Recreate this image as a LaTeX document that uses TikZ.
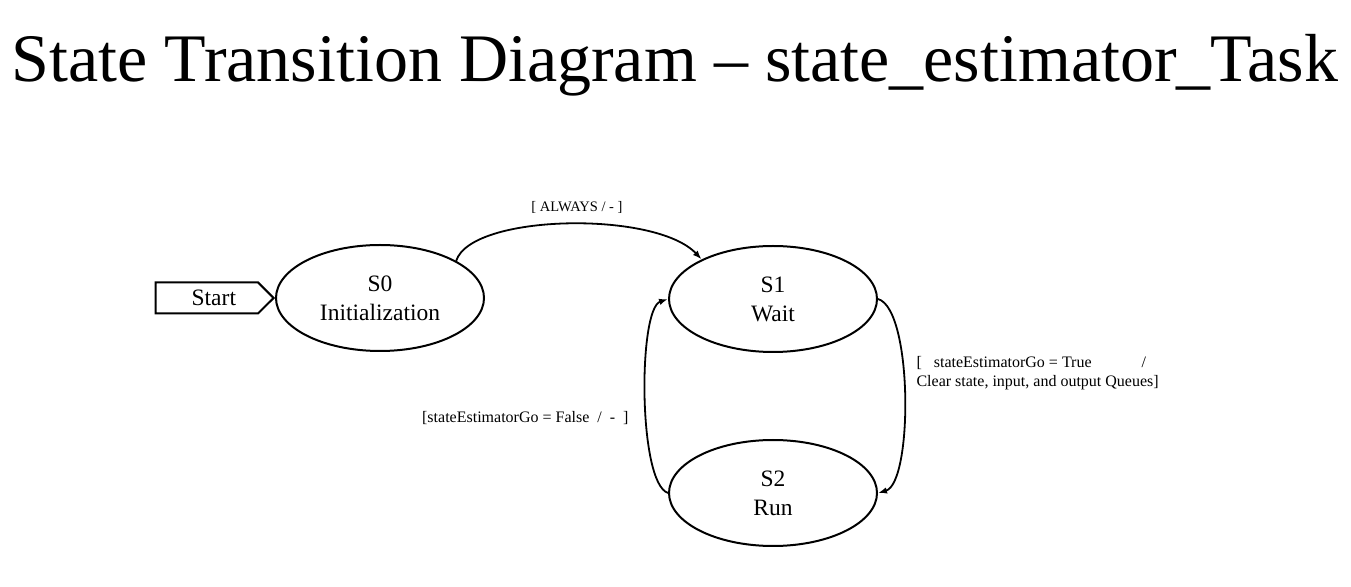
\documentclass[tikz,border=0pt]{standalone}
\usepackage{fontspec}
\setmainfont{Liberation Serif}
\usetikzlibrary{shapes.geometric,shapes.symbols,arrows.meta,positioning}

\begin{document}
\begin{tikzpicture}[x=1pt,y=1pt,
	state/.style={draw,ellipse,line width=2pt,inner sep=0pt,minimum width=208pt,minimum height=106pt,align=center,font=\fontsize{23.5}{29}\selectfont},
	startbox/.style={draw,signal,signal to=east,line width=2pt,inner sep=0pt,minimum width=118pt,minimum height=31pt,font=\fontsize{23.5}{28}\selectfont},
	trans/.style={line width=1.8pt,-{Latex[length=9pt,width=6.5pt]}},
	lbl/.style={font=\fontsize{16}{19}\selectfont,align=left}]
	\useasboundingbox (0,0) rectangle (1351,586);
	
	\node[anchor=base,font=\fontsize{68}{80}\selectfont] (title) at (675,504) {State Transition Diagram -- state\_estimator\_Task};
	
	%states
	\node[state] (S0) at (380,288) {S0\\Initialization};
	\node[state] (S1) at (773,287) {S1\\Wait};
	\node[state] (S2) at (773,93)  {S2\\Run};
	
	\node[startbox,left=0pt of S0] (start) {\hspace{14pt}Start};
	
	%transitions
	\draw[trans] (S0.26) .. controls +(15,47) and +(-46,49) .. (S1.151);		%S0--S1
	\draw[trans] (S1.east) .. controls +(35,-10) and +(35,10) .. (S2.east);	%S1--S2
	\draw[trans] (S2.west) .. controls +(-30,10) and +(-30,-10) .. (S1.west);	%S2--S1
	
	%labels
	\node[lbl,font=\fontsize{14.5}{18}\selectfont] (always) at (577,379) {[ ALWAYS / - ]};
	\node[lbl,anchor=west] (golbl) at (913,213) {[\hspace{12pt}stateEstimatorGo = True\hspace{50pt}/\\Clear state, input, and output Queues]};
	\node[lbl,anchor=east] (stoplbl) at (632,168) {[stateEstimatorGo = False\ \ /\ \ -\ \ ]};
	
	%\draw[help lines,step=50] (0,0) grid (1351,586);
\end{tikzpicture}
\end{document}
